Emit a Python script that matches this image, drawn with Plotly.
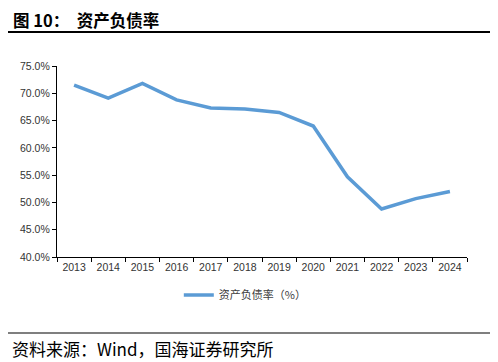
import plotly.graph_objects as go

years = ["2013", "2014", "2015", "2016", "2017", "2018", "2019", "2020", "2021", "2022", "2023", "2024"]
debt_ratio = [71.5, 69.1, 71.8, 68.8, 67.3, 67.1, 66.5, 64.0, 54.7, 48.8, 50.7, 52.0]
y_ticks = [40, 45, 50, 55, 60, 65, 70, 75]
y_tick_labels = ["40.0%", "45.0%", "50.0%", "55.0%", "60.0%", "65.0%", "70.0%", "75.0%"]

# page has an 8px body margin, so the figure is drawn 8px smaller and offset
W, H = 490, 354
L, R, T, B = 45, 31, 58, 105
pw = W - L - R
ph = H - T - B


def px_x(x):
    return (x - L) / pw


def px_y(y):
    return (H - B - y) / ph


fig = go.Figure()
fig.add_trace(go.Scatter(
    x=years, y=debt_ratio, mode="lines", name="资产负债率（%）",
    line=dict(color="#5B9BD5", width=3.5),
))

fig.update_layout(
    width=W, height=H,
    margin=dict(l=L, r=R, t=T, b=B),
    paper_bgcolor="white", plot_bgcolor="white",
    font=dict(family="Noto Sans CJK SC, sans-serif", color="#333333", size=10),
    showlegend=True,
    legend=dict(orientation="h", x=px_x(168), xanchor="left", y=px_y(287),
                yanchor="middle", font=dict(size=11, color="#404040"), bgcolor="rgba(0,0,0,0)"),
    xaxis=dict(
        type="category", range=[-0.5, 11.5], showline=True, linecolor="black", linewidth=1.2,
        ticks="outside", tickson="boundaries", ticklen=4, tickcolor="black",
        tickfont=dict(family="Liberation Sans, Arial, sans-serif", size=10.5, color="#333333"),
        showgrid=False, zeroline=False,
    ),
    yaxis=dict(
        range=[40, 75], tickvals=y_ticks, ticktext=y_tick_labels, showline=True,
        linecolor="black", linewidth=1.2, ticks="outside", ticklen=4, tickcolor="black",
        tickfont=dict(family="Liberation Sans, Arial, sans-serif", size=10.5, color="#333333"),
        showgrid=False, zeroline=False,
    ),
)

fig.add_annotation(text="<b>图 10：  资产负债率</b>", xref="paper", yref="paper",
                   x=px_x(0), xanchor="left", y=px_y(-1), yanchor="top", borderpad=0,
                   showarrow=False, font=dict(size=16.5, color="black", family="Noto Sans CJK SC"))
fig.add_shape(type="line", xref="paper", yref="paper", x0=px_x(-8), x1=px_x(W),
              y0=px_y(24), y1=px_y(24), line=dict(color="black", width=2))
fig.add_shape(type="line", xref="paper", yref="paper", x0=px_x(-8), x1=px_x(W),
              y0=px_y(325), y1=px_y(325), line=dict(color="#555555", width=1.5))
fig.add_annotation(text="资料来源：Wind，国海证券研究所", xref="paper", yref="paper",
                   x=px_x(-2), xanchor="left", y=px_y(340), yanchor="middle",
                   showarrow=False, font=dict(size=17, color="black", family="Noto Sans CJK SC"))

fig.write_html("out.html")
